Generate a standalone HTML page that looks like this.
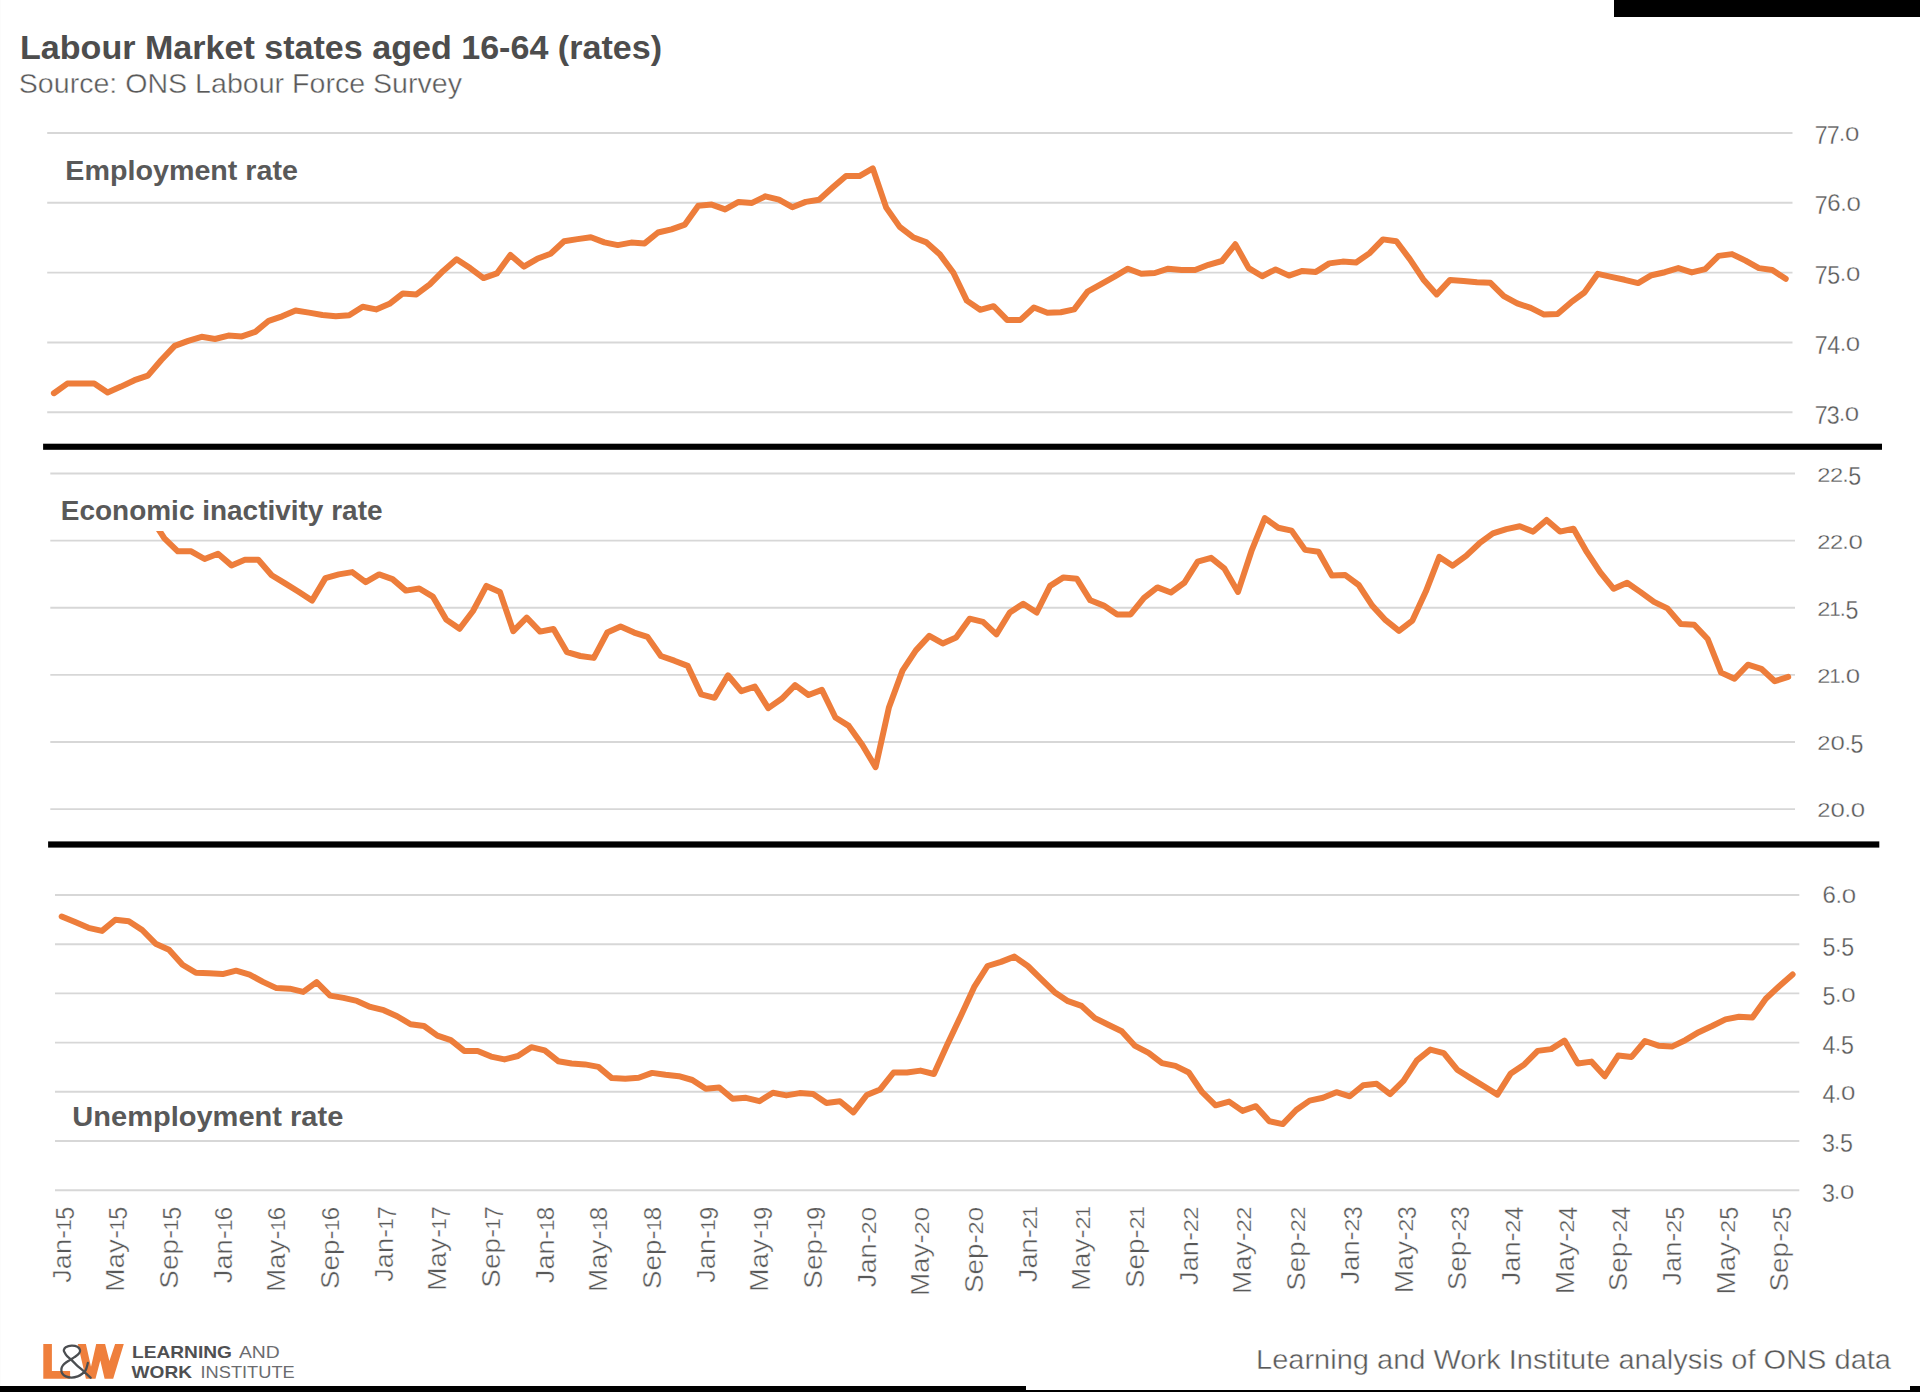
<!DOCTYPE html>
<html lang="en">
<head>
<meta charset="utf-8">
<title>Labour Market states aged 16-64 (rates)</title>
<style>
html,body{margin:0;padding:0;background:#fff;}
body{width:1920px;height:1392px;overflow:hidden;font-family:'Liberation Sans',sans-serif;}
svg{display:block;}
</style>
</head>
<body>
<svg width="1920" height="1392" viewBox="0 0 1920 1392" font-family="'Liberation Sans', sans-serif">
<rect x="0" y="0" width="1920" height="1392" fill="#ffffff"/>
<rect x="0" y="0" width="1" height="1386" fill="#fcfcfc"/>
<rect x="1614" y="0" width="306" height="17" fill="#000"/>
<rect x="0" y="1386" width="1026" height="6" fill="#000"/>
<rect x="1026" y="1390" width="894" height="2" fill="#000"/>
<rect x="1910" y="1386" width="10" height="6" fill="#000"/>
<line x1="47.2" y1="132.94" x2="1792.5" y2="132.94" stroke="#d7d7d7" stroke-width="1.9"/>
<line x1="47.2" y1="202.77" x2="1792.5" y2="202.77" stroke="#d7d7d7" stroke-width="1.9"/>
<line x1="47.2" y1="272.60" x2="1792.5" y2="272.60" stroke="#d7d7d7" stroke-width="1.9"/>
<line x1="47.2" y1="342.43" x2="1792.5" y2="342.43" stroke="#d7d7d7" stroke-width="1.9"/>
<line x1="47.2" y1="412.26" x2="1792.5" y2="412.26" stroke="#d7d7d7" stroke-width="1.9"/>
<line x1="50.3" y1="473.45" x2="1795.0" y2="473.45" stroke="#d7d7d7" stroke-width="1.9"/>
<line x1="50.3" y1="540.59" x2="1795.0" y2="540.59" stroke="#d7d7d7" stroke-width="1.9"/>
<line x1="50.3" y1="607.73" x2="1795.0" y2="607.73" stroke="#d7d7d7" stroke-width="1.9"/>
<line x1="50.3" y1="674.87" x2="1795.0" y2="674.87" stroke="#d7d7d7" stroke-width="1.9"/>
<line x1="50.3" y1="742.01" x2="1795.0" y2="742.01" stroke="#d7d7d7" stroke-width="1.9"/>
<line x1="50.3" y1="809.15" x2="1795.0" y2="809.15" stroke="#d7d7d7" stroke-width="1.9"/>
<line x1="55.0" y1="894.97" x2="1799.3" y2="894.97" stroke="#d7d7d7" stroke-width="1.9"/>
<line x1="55.0" y1="944.18" x2="1799.3" y2="944.18" stroke="#d7d7d7" stroke-width="1.9"/>
<line x1="55.0" y1="993.40" x2="1799.3" y2="993.40" stroke="#d7d7d7" stroke-width="1.9"/>
<line x1="55.0" y1="1042.61" x2="1799.3" y2="1042.61" stroke="#d7d7d7" stroke-width="1.9"/>
<line x1="55.0" y1="1091.82" x2="1799.3" y2="1091.82" stroke="#d7d7d7" stroke-width="1.9"/>
<line x1="55.0" y1="1141.04" x2="1799.3" y2="1141.04" stroke="#d7d7d7" stroke-width="1.9"/>
<line x1="55.0" y1="1190.25" x2="1799.3" y2="1190.25" stroke="#d7d7d7" stroke-width="1.9"/>
<polyline fill="none" stroke="#ED7D3B" stroke-width="6" stroke-linecap="round" stroke-linejoin="round" points="53.9,393.2 67.3,383.6 80.8,383.6 94.2,383.6 107.6,392.4 121.0,386.6 134.5,380.2 147.9,375.6 161.3,360.0 174.7,345.9 188.2,340.9 201.6,336.8 215.0,339.0 228.4,335.6 241.9,336.4 255.3,331.9 268.7,320.8 282.1,316.3 295.6,310.5 309.0,312.6 322.4,315.0 335.8,316.3 349.2,315.2 362.7,306.8 376.1,309.4 389.5,303.8 402.9,293.4 416.4,294.4 429.8,284.4 443.2,270.9 456.6,259.3 470.1,268.1 483.5,278.1 496.9,273.4 510.4,255.0 523.8,266.6 537.2,258.8 550.6,253.7 564.1,241.3 577.5,239.1 590.9,237.2 604.3,242.4 617.8,245.1 631.2,242.6 644.6,243.4 658.0,232.5 671.5,229.3 684.9,224.6 698.3,205.7 711.7,204.6 725.1,209.4 738.6,201.9 752.0,202.9 765.4,196.3 778.9,199.7 792.3,207.2 805.7,201.9 819.1,199.7 832.6,187.5 846.0,175.9 859.4,176.1 872.8,168.4 886.2,207.6 899.7,226.9 913.1,237.2 926.5,242.4 940.0,254.6 953.4,272.8 966.8,300.6 980.2,309.8 993.6,306.2 1007.1,319.9 1020.5,319.9 1033.9,307.5 1047.4,312.8 1060.8,312.2 1074.2,309.4 1087.6,291.6 1101.1,284.1 1114.5,276.6 1127.9,268.7 1141.3,273.8 1154.8,273.0 1168.2,268.7 1181.6,270.0 1195.0,270.0 1208.5,264.8 1221.9,261.0 1235.3,244.3 1248.7,268.1 1262.2,276.2 1275.6,269.4 1289.0,275.6 1302.4,270.9 1315.9,271.9 1329.3,263.4 1342.7,261.6 1356.1,262.5 1369.6,253.1 1383.0,239.4 1396.4,241.3 1409.8,259.1 1423.3,279.4 1436.7,294.4 1450.1,279.9 1463.5,280.9 1477.0,282.2 1490.4,282.8 1503.8,296.2 1517.2,303.4 1530.7,307.9 1544.1,314.6 1557.5,314.1 1570.9,302.4 1584.4,292.5 1597.8,273.8 1611.2,276.9 1624.6,279.8 1638.1,283.1 1651.5,275.2 1664.9,272.2 1678.3,268.1 1691.8,272.4 1705.2,269.1 1718.6,255.9 1732.0,254.1 1745.5,260.6 1758.9,268.1 1772.3,270.0 1785.7,278.8"/>
<polyline fill="none" stroke="#ED7D3B" stroke-width="6" stroke-linecap="round" stroke-linejoin="round" points="150.9,517.6 164.4,538.4 177.8,551.3 191.2,551.3 204.6,559.0 218.0,553.8 231.5,565.4 244.9,559.8 258.3,559.8 271.7,575.3 285.1,583.4 298.6,591.8 312.0,600.6 325.4,578.1 338.8,574.4 352.2,572.1 365.7,582.2 379.1,574.4 392.5,579.1 405.9,590.6 419.3,588.5 432.8,596.6 446.2,619.6 459.6,628.8 473.0,611.0 486.4,585.9 499.9,591.9 513.3,631.2 526.7,617.6 540.1,631.6 553.5,629.0 567.0,652.2 580.4,656.0 593.8,657.9 607.2,632.6 620.6,626.6 634.1,632.6 647.5,636.9 660.9,656.0 674.3,660.7 687.7,665.9 701.2,694.4 714.6,697.8 728.0,675.3 741.4,691.2 754.8,686.6 768.3,708.1 781.7,698.8 795.1,685.1 808.5,695.0 821.9,689.9 835.4,717.5 848.8,725.9 862.2,744.7 875.6,767.2 889.0,707.2 902.5,670.6 915.9,650.4 929.3,635.9 942.7,643.4 956.1,637.4 969.6,618.7 983.0,621.9 996.4,634.4 1009.8,612.5 1023.2,603.7 1036.7,612.5 1050.1,585.9 1063.5,577.4 1076.9,578.8 1090.3,600.3 1103.8,605.6 1117.2,614.4 1130.6,614.4 1144.0,597.8 1157.4,587.4 1170.9,592.5 1184.3,582.8 1197.7,561.6 1211.1,557.8 1224.5,568.7 1238.0,591.9 1251.4,551.2 1264.8,518.1 1278.2,527.8 1291.6,530.6 1305.1,549.9 1318.5,551.8 1331.9,575.6 1345.3,575.1 1358.7,585.0 1372.2,605.6 1385.6,620.2 1399.0,630.9 1412.4,620.6 1425.8,591.6 1439.3,556.9 1452.7,565.7 1466.1,555.9 1479.5,543.2 1492.9,533.4 1506.4,529.1 1519.8,526.3 1533.2,531.6 1546.6,519.9 1560.0,531.6 1573.5,528.8 1586.9,552.2 1600.3,572.4 1613.7,588.8 1627.1,582.8 1640.6,592.1 1654.0,601.9 1667.4,608.4 1680.8,624.0 1694.2,624.8 1707.7,639.0 1721.1,672.6 1734.5,678.8 1747.9,664.7 1761.3,668.8 1774.8,681.2 1788.2,676.9"/>
<polyline fill="none" stroke="#ED7D3B" stroke-width="6" stroke-linecap="round" stroke-linejoin="round" points="61.7,916.5 75.1,922.1 88.5,927.8 102.0,930.9 115.4,919.7 128.8,921.2 142.2,930.0 155.6,943.7 169.0,949.7 182.5,964.7 195.9,972.8 209.3,973.3 222.7,974.1 236.1,970.7 249.6,974.6 263.0,981.9 276.4,988.1 289.8,988.7 303.2,991.9 316.6,982.1 330.1,995.6 343.5,997.9 356.9,1000.9 370.3,1006.9 383.7,1010.2 397.1,1016.2 410.6,1024.3 424.0,1026.0 437.4,1035.6 450.8,1040.2 464.2,1050.9 477.7,1050.9 491.1,1056.6 504.5,1059.4 517.9,1056.0 531.3,1047.2 544.7,1050.4 558.2,1061.2 571.6,1063.5 585.0,1064.4 598.4,1066.9 611.8,1078.1 625.3,1078.7 638.7,1077.8 652.1,1072.9 665.5,1074.8 678.9,1076.2 692.3,1080.0 705.8,1088.8 719.2,1087.5 732.6,1098.8 746.0,1097.8 759.4,1101.2 772.9,1092.8 786.3,1095.4 799.7,1093.1 813.1,1094.1 826.5,1102.9 839.9,1101.2 853.4,1112.4 866.8,1095.0 880.2,1089.4 893.6,1072.5 907.0,1072.5 920.5,1070.6 933.9,1074.0 947.3,1044.4 960.7,1016.2 974.1,987.2 987.5,966.0 1001.0,961.9 1014.4,956.6 1027.8,966.0 1041.2,979.1 1054.6,992.2 1068.0,1001.2 1081.5,1005.9 1094.9,1018.1 1108.3,1024.7 1121.7,1031.2 1135.1,1045.9 1148.6,1052.8 1162.0,1063.1 1175.4,1065.9 1188.8,1072.5 1202.2,1092.2 1215.6,1105.3 1229.1,1101.6 1242.5,1110.9 1255.9,1106.2 1269.3,1121.2 1282.7,1124.1 1296.2,1110.0 1309.6,1100.6 1323.0,1097.8 1336.4,1092.2 1349.8,1096.3 1363.2,1085.2 1376.7,1083.8 1390.1,1094.1 1403.5,1080.9 1416.9,1060.3 1430.3,1049.6 1443.8,1053.2 1457.2,1069.7 1470.6,1078.1 1484.0,1086.2 1497.4,1094.6 1510.8,1073.4 1524.3,1064.4 1537.7,1050.9 1551.1,1049.1 1564.5,1040.6 1577.9,1063.5 1591.4,1061.6 1604.8,1076.2 1618.2,1055.6 1631.6,1056.9 1645.0,1041.0 1658.4,1045.7 1671.9,1046.6 1685.3,1040.2 1698.7,1032.2 1712.1,1026.0 1725.5,1019.4 1739.0,1016.8 1752.4,1017.6 1765.8,998.8 1779.2,986.2 1792.6,974.4"/>
<rect x="56" y="486" width="334" height="45" fill="#fff"/>
<rect x="43.1" y="443.7" width="1838.9" height="6.1" fill="#000"/>
<rect x="48.1" y="841.4" width="1831.2" height="6.2" fill="#000"/>
<text x="20.0" y="59.0" font-size="32.70" fill="#4d4d4d" font-weight="bold" text-anchor="start" textLength="642.0" lengthAdjust="spacingAndGlyphs">Labour Market states aged 16-64 (rates)</text>
<text x="18.8" y="93.1" font-size="27.40" fill="#595959" font-weight="normal" text-anchor="start" textLength="443.2" lengthAdjust="spacingAndGlyphs" stroke="#fff" stroke-width="0.4" paint-order="fill stroke">Source: ONS Labour Force Survey</text>
<text x="65.3" y="179.6" font-size="27.60" fill="#595959" font-weight="bold" text-anchor="start" textLength="232.7" lengthAdjust="spacingAndGlyphs">Employment rate</text>
<text x="60.8" y="520.4" font-size="27.60" fill="#595959" font-weight="bold" text-anchor="start" textLength="321.7" lengthAdjust="spacingAndGlyphs">Economic inactivity rate</text>
<text x="72.3" y="1125.6" font-size="27.60" fill="#595959" font-weight="bold" text-anchor="start" textLength="271.0" lengthAdjust="spacingAndGlyphs">Unemployment rate</text>
<g transform="translate(1815.00,141.24)"><text transform="translate(-0.35,3.10) scale(0.930,1)" font-size="24.96" fill="#595959" stroke="#fff" stroke-width="0.3" paint-order="fill stroke">7</text><text transform="translate(11.85,3.10) scale(0.930,1)" font-size="24.96" fill="#595959" stroke="#fff" stroke-width="0.3" paint-order="fill stroke">7</text><text transform="translate(24.10,0.00) scale(1.000,1)" font-size="21.60" fill="#595959" stroke="#fff" stroke-width="0.3" paint-order="fill stroke">.</text><text transform="translate(30.03,0.00) scale(1.250,1)" font-size="20.64" fill="#595959" stroke="#fff" stroke-width="0.3" paint-order="fill stroke">0</text></g>
<g transform="translate(1815.00,211.07)"><text transform="translate(-0.35,3.10) scale(0.930,1)" font-size="24.96" fill="#595959" stroke="#fff" stroke-width="0.3" paint-order="fill stroke">7</text><text transform="translate(12.33,0.00) scale(0.970,1)" font-size="24.72" fill="#595959" stroke="#fff" stroke-width="0.3" paint-order="fill stroke">6</text><text transform="translate(25.50,0.00) scale(1.000,1)" font-size="21.60" fill="#595959" stroke="#fff" stroke-width="0.3" paint-order="fill stroke">.</text><text transform="translate(31.43,0.00) scale(1.250,1)" font-size="20.64" fill="#595959" stroke="#fff" stroke-width="0.3" paint-order="fill stroke">0</text></g>
<g transform="translate(1815.00,280.90)"><text transform="translate(-0.35,3.10) scale(0.930,1)" font-size="24.96" fill="#595959" stroke="#fff" stroke-width="0.3" paint-order="fill stroke">7</text><text transform="translate(12.35,3.10) scale(0.930,1)" font-size="24.96" fill="#595959" stroke="#fff" stroke-width="0.3" paint-order="fill stroke">5</text><text transform="translate(25.10,0.00) scale(1.000,1)" font-size="21.60" fill="#595959" stroke="#fff" stroke-width="0.3" paint-order="fill stroke">.</text><text transform="translate(31.03,0.00) scale(1.250,1)" font-size="20.64" fill="#595959" stroke="#fff" stroke-width="0.3" paint-order="fill stroke">0</text></g>
<g transform="translate(1815.00,350.73)"><text transform="translate(-0.35,3.10) scale(0.930,1)" font-size="24.96" fill="#595959" stroke="#fff" stroke-width="0.3" paint-order="fill stroke">7</text><text transform="translate(12.25,3.10) scale(0.930,1)" font-size="24.96" fill="#595959" stroke="#fff" stroke-width="0.3" paint-order="fill stroke">4</text><text transform="translate(24.90,0.00) scale(1.000,1)" font-size="21.60" fill="#595959" stroke="#fff" stroke-width="0.3" paint-order="fill stroke">.</text><text transform="translate(30.83,0.00) scale(1.250,1)" font-size="20.64" fill="#595959" stroke="#fff" stroke-width="0.3" paint-order="fill stroke">0</text></g>
<g transform="translate(1815.00,420.56)"><text transform="translate(-0.35,3.10) scale(0.930,1)" font-size="24.96" fill="#595959" stroke="#fff" stroke-width="0.3" paint-order="fill stroke">7</text><text transform="translate(11.75,3.10) scale(0.930,1)" font-size="24.96" fill="#595959" stroke="#fff" stroke-width="0.3" paint-order="fill stroke">3</text><text transform="translate(23.90,0.00) scale(1.000,1)" font-size="21.60" fill="#595959" stroke="#fff" stroke-width="0.3" paint-order="fill stroke">.</text><text transform="translate(29.83,0.00) scale(1.250,1)" font-size="20.64" fill="#595959" stroke="#fff" stroke-width="0.3" paint-order="fill stroke">0</text></g>
<g transform="translate(1817.60,481.75)"><text transform="translate(-0.30,0.00) scale(1.150,1)" font-size="20.64" fill="#595959" stroke="#fff" stroke-width="0.3" paint-order="fill stroke">2</text><text transform="translate(12.30,0.00) scale(1.150,1)" font-size="20.64" fill="#595959" stroke="#fff" stroke-width="0.3" paint-order="fill stroke">2</text><text transform="translate(24.90,0.00) scale(1.000,1)" font-size="21.60" fill="#595959" stroke="#fff" stroke-width="0.3" paint-order="fill stroke">.</text><text transform="translate(30.75,3.10) scale(0.930,1)" font-size="24.96" fill="#595959" stroke="#fff" stroke-width="0.3" paint-order="fill stroke">5</text></g>
<g transform="translate(1817.60,548.89)"><text transform="translate(-0.30,0.00) scale(1.150,1)" font-size="20.64" fill="#595959" stroke="#fff" stroke-width="0.3" paint-order="fill stroke">2</text><text transform="translate(12.30,0.00) scale(1.150,1)" font-size="20.64" fill="#595959" stroke="#fff" stroke-width="0.3" paint-order="fill stroke">2</text><text transform="translate(24.90,0.00) scale(1.000,1)" font-size="21.60" fill="#595959" stroke="#fff" stroke-width="0.3" paint-order="fill stroke">.</text><text transform="translate(30.83,0.00) scale(1.250,1)" font-size="20.64" fill="#595959" stroke="#fff" stroke-width="0.3" paint-order="fill stroke">0</text></g>
<g transform="translate(1817.60,616.03)"><text transform="translate(-0.30,0.00) scale(1.150,1)" font-size="20.64" fill="#595959" stroke="#fff" stroke-width="0.3" paint-order="fill stroke">2</text><text transform="translate(11.76,0.00) scale(1.000,1)" font-size="20.64" fill="#595959" stroke="#fff" stroke-width="0.3" paint-order="fill stroke">1</text><text transform="translate(22.10,0.00) scale(1.000,1)" font-size="21.60" fill="#595959" stroke="#fff" stroke-width="0.3" paint-order="fill stroke">.</text><text transform="translate(27.95,3.10) scale(0.930,1)" font-size="24.96" fill="#595959" stroke="#fff" stroke-width="0.3" paint-order="fill stroke">5</text></g>
<g transform="translate(1817.60,683.17)"><text transform="translate(-0.30,0.00) scale(1.150,1)" font-size="20.64" fill="#595959" stroke="#fff" stroke-width="0.3" paint-order="fill stroke">2</text><text transform="translate(11.76,0.00) scale(1.000,1)" font-size="20.64" fill="#595959" stroke="#fff" stroke-width="0.3" paint-order="fill stroke">1</text><text transform="translate(22.10,0.00) scale(1.000,1)" font-size="21.60" fill="#595959" stroke="#fff" stroke-width="0.3" paint-order="fill stroke">.</text><text transform="translate(28.03,0.00) scale(1.250,1)" font-size="20.64" fill="#595959" stroke="#fff" stroke-width="0.3" paint-order="fill stroke">0</text></g>
<g transform="translate(1817.60,750.31)"><text transform="translate(-0.30,0.00) scale(1.150,1)" font-size="20.64" fill="#595959" stroke="#fff" stroke-width="0.3" paint-order="fill stroke">2</text><text transform="translate(12.83,0.00) scale(1.250,1)" font-size="20.64" fill="#595959" stroke="#fff" stroke-width="0.3" paint-order="fill stroke">0</text><text transform="translate(27.10,0.00) scale(1.000,1)" font-size="21.60" fill="#595959" stroke="#fff" stroke-width="0.3" paint-order="fill stroke">.</text><text transform="translate(32.95,3.10) scale(0.930,1)" font-size="24.96" fill="#595959" stroke="#fff" stroke-width="0.3" paint-order="fill stroke">5</text></g>
<g transform="translate(1817.60,817.45)"><text transform="translate(-0.30,0.00) scale(1.150,1)" font-size="20.64" fill="#595959" stroke="#fff" stroke-width="0.3" paint-order="fill stroke">2</text><text transform="translate(12.83,0.00) scale(1.250,1)" font-size="20.64" fill="#595959" stroke="#fff" stroke-width="0.3" paint-order="fill stroke">0</text><text transform="translate(27.10,0.00) scale(1.000,1)" font-size="21.60" fill="#595959" stroke="#fff" stroke-width="0.3" paint-order="fill stroke">.</text><text transform="translate(33.03,0.00) scale(1.250,1)" font-size="20.64" fill="#595959" stroke="#fff" stroke-width="0.3" paint-order="fill stroke">0</text></g>
<g transform="translate(1822.40,903.27)"><text transform="translate(0.13,0.00) scale(0.970,1)" font-size="24.72" fill="#595959" stroke="#fff" stroke-width="0.3" paint-order="fill stroke">6</text><text transform="translate(13.30,0.00) scale(1.000,1)" font-size="21.60" fill="#595959" stroke="#fff" stroke-width="0.3" paint-order="fill stroke">.</text><text transform="translate(19.23,0.00) scale(1.250,1)" font-size="20.64" fill="#595959" stroke="#fff" stroke-width="0.3" paint-order="fill stroke">0</text></g>
<g transform="translate(1822.40,952.48)"><text transform="translate(0.15,3.10) scale(0.930,1)" font-size="24.96" fill="#595959" stroke="#fff" stroke-width="0.3" paint-order="fill stroke">5</text><text transform="translate(12.90,0.00) scale(1.000,1)" font-size="21.60" fill="#595959" stroke="#fff" stroke-width="0.3" paint-order="fill stroke">.</text><text transform="translate(18.75,3.10) scale(0.930,1)" font-size="24.96" fill="#595959" stroke="#fff" stroke-width="0.3" paint-order="fill stroke">5</text></g>
<g transform="translate(1822.40,1001.70)"><text transform="translate(0.15,3.10) scale(0.930,1)" font-size="24.96" fill="#595959" stroke="#fff" stroke-width="0.3" paint-order="fill stroke">5</text><text transform="translate(12.90,0.00) scale(1.000,1)" font-size="21.60" fill="#595959" stroke="#fff" stroke-width="0.3" paint-order="fill stroke">.</text><text transform="translate(18.83,0.00) scale(1.250,1)" font-size="20.64" fill="#595959" stroke="#fff" stroke-width="0.3" paint-order="fill stroke">0</text></g>
<g transform="translate(1822.40,1050.91)"><text transform="translate(0.05,3.10) scale(0.930,1)" font-size="24.96" fill="#595959" stroke="#fff" stroke-width="0.3" paint-order="fill stroke">4</text><text transform="translate(12.70,0.00) scale(1.000,1)" font-size="21.60" fill="#595959" stroke="#fff" stroke-width="0.3" paint-order="fill stroke">.</text><text transform="translate(18.55,3.10) scale(0.930,1)" font-size="24.96" fill="#595959" stroke="#fff" stroke-width="0.3" paint-order="fill stroke">5</text></g>
<g transform="translate(1822.40,1100.12)"><text transform="translate(0.05,3.10) scale(0.930,1)" font-size="24.96" fill="#595959" stroke="#fff" stroke-width="0.3" paint-order="fill stroke">4</text><text transform="translate(12.70,0.00) scale(1.000,1)" font-size="21.60" fill="#595959" stroke="#fff" stroke-width="0.3" paint-order="fill stroke">.</text><text transform="translate(18.63,0.00) scale(1.250,1)" font-size="20.64" fill="#595959" stroke="#fff" stroke-width="0.3" paint-order="fill stroke">0</text></g>
<g transform="translate(1822.40,1149.34)"><text transform="translate(-0.45,3.10) scale(0.930,1)" font-size="24.96" fill="#595959" stroke="#fff" stroke-width="0.3" paint-order="fill stroke">3</text><text transform="translate(11.70,0.00) scale(1.000,1)" font-size="21.60" fill="#595959" stroke="#fff" stroke-width="0.3" paint-order="fill stroke">.</text><text transform="translate(17.55,3.10) scale(0.930,1)" font-size="24.96" fill="#595959" stroke="#fff" stroke-width="0.3" paint-order="fill stroke">5</text></g>
<g transform="translate(1822.40,1198.55)"><text transform="translate(-0.45,3.10) scale(0.930,1)" font-size="24.96" fill="#595959" stroke="#fff" stroke-width="0.3" paint-order="fill stroke">3</text><text transform="translate(11.70,0.00) scale(1.000,1)" font-size="21.60" fill="#595959" stroke="#fff" stroke-width="0.3" paint-order="fill stroke">.</text><text transform="translate(17.63,0.00) scale(1.250,1)" font-size="20.64" fill="#595959" stroke="#fff" stroke-width="0.3" paint-order="fill stroke">0</text></g>
<g transform="translate(70.70,1206.80) rotate(-90) translate(-75.94,0)"><text transform="translate(0.00,0) scale(1.050,1)" font-size="25.92" fill="#595959" stroke="#fff" stroke-width="0.4" paint-order="fill stroke">Jan-</text><text transform="translate(52.11,0.00) scale(1.000,1)" font-size="20.64" fill="#595959" stroke="#fff" stroke-width="0.3" paint-order="fill stroke">1</text><text transform="translate(62.89,3.10) scale(0.930,1)" font-size="24.96" fill="#595959" stroke="#fff" stroke-width="0.3" paint-order="fill stroke">5</text></g>
<g transform="translate(124.37,1206.80) rotate(-90) translate(-84.92,0)"><text transform="translate(0.00,0) scale(1.075,1)" font-size="25.92" fill="#595959" stroke="#fff" stroke-width="0.4" paint-order="fill stroke">May-</text><text transform="translate(61.08,0.00) scale(1.000,1)" font-size="20.64" fill="#595959" stroke="#fff" stroke-width="0.3" paint-order="fill stroke">1</text><text transform="translate(71.87,3.10) scale(0.930,1)" font-size="24.96" fill="#595959" stroke="#fff" stroke-width="0.3" paint-order="fill stroke">5</text></g>
<g transform="translate(178.04,1206.80) rotate(-90) translate(-81.86,0)"><text transform="translate(0.00,0) scale(1.075,1)" font-size="25.92" fill="#595959" stroke="#fff" stroke-width="0.4" paint-order="fill stroke">Sep-</text><text transform="translate(58.02,0.00) scale(1.000,1)" font-size="20.64" fill="#595959" stroke="#fff" stroke-width="0.3" paint-order="fill stroke">1</text><text transform="translate(68.80,3.10) scale(0.930,1)" font-size="24.96" fill="#595959" stroke="#fff" stroke-width="0.3" paint-order="fill stroke">5</text></g>
<g transform="translate(231.72,1206.80) rotate(-90) translate(-76.34,0)"><text transform="translate(0.00,0) scale(1.050,1)" font-size="25.92" fill="#595959" stroke="#fff" stroke-width="0.4" paint-order="fill stroke">Jan-</text><text transform="translate(52.11,0.00) scale(1.000,1)" font-size="20.64" fill="#595959" stroke="#fff" stroke-width="0.3" paint-order="fill stroke">1</text><text transform="translate(62.88,0.00) scale(0.970,1)" font-size="24.72" fill="#595959" stroke="#fff" stroke-width="0.3" paint-order="fill stroke">6</text></g>
<g transform="translate(285.39,1206.80) rotate(-90) translate(-85.32,0)"><text transform="translate(0.00,0) scale(1.075,1)" font-size="25.92" fill="#595959" stroke="#fff" stroke-width="0.4" paint-order="fill stroke">May-</text><text transform="translate(61.08,0.00) scale(1.000,1)" font-size="20.64" fill="#595959" stroke="#fff" stroke-width="0.3" paint-order="fill stroke">1</text><text transform="translate(71.85,0.00) scale(0.970,1)" font-size="24.72" fill="#595959" stroke="#fff" stroke-width="0.3" paint-order="fill stroke">6</text></g>
<g transform="translate(339.06,1206.80) rotate(-90) translate(-82.26,0)"><text transform="translate(0.00,0) scale(1.075,1)" font-size="25.92" fill="#595959" stroke="#fff" stroke-width="0.4" paint-order="fill stroke">Sep-</text><text transform="translate(58.02,0.00) scale(1.000,1)" font-size="20.64" fill="#595959" stroke="#fff" stroke-width="0.3" paint-order="fill stroke">1</text><text transform="translate(68.79,0.00) scale(0.970,1)" font-size="24.72" fill="#595959" stroke="#fff" stroke-width="0.3" paint-order="fill stroke">6</text></g>
<g transform="translate(392.73,1206.80) rotate(-90) translate(-74.94,0)"><text transform="translate(0.00,0) scale(1.050,1)" font-size="25.92" fill="#595959" stroke="#fff" stroke-width="0.4" paint-order="fill stroke">Jan-</text><text transform="translate(52.11,0.00) scale(1.000,1)" font-size="20.64" fill="#595959" stroke="#fff" stroke-width="0.3" paint-order="fill stroke">1</text><text transform="translate(62.39,3.10) scale(0.930,1)" font-size="24.96" fill="#595959" stroke="#fff" stroke-width="0.3" paint-order="fill stroke">7</text></g>
<g transform="translate(446.40,1206.80) rotate(-90) translate(-83.92,0)"><text transform="translate(0.00,0) scale(1.075,1)" font-size="25.92" fill="#595959" stroke="#fff" stroke-width="0.4" paint-order="fill stroke">May-</text><text transform="translate(61.08,0.00) scale(1.000,1)" font-size="20.64" fill="#595959" stroke="#fff" stroke-width="0.3" paint-order="fill stroke">1</text><text transform="translate(71.37,3.10) scale(0.930,1)" font-size="24.96" fill="#595959" stroke="#fff" stroke-width="0.3" paint-order="fill stroke">7</text></g>
<g transform="translate(500.08,1206.80) rotate(-90) translate(-80.86,0)"><text transform="translate(0.00,0) scale(1.075,1)" font-size="25.92" fill="#595959" stroke="#fff" stroke-width="0.4" paint-order="fill stroke">Sep-</text><text transform="translate(58.02,0.00) scale(1.000,1)" font-size="20.64" fill="#595959" stroke="#fff" stroke-width="0.3" paint-order="fill stroke">1</text><text transform="translate(68.30,3.10) scale(0.930,1)" font-size="24.96" fill="#595959" stroke="#fff" stroke-width="0.3" paint-order="fill stroke">7</text></g>
<g transform="translate(553.75,1206.80) rotate(-90) translate(-76.34,0)"><text transform="translate(0.00,0) scale(1.050,1)" font-size="25.92" fill="#595959" stroke="#fff" stroke-width="0.4" paint-order="fill stroke">Jan-</text><text transform="translate(52.11,0.00) scale(1.000,1)" font-size="20.64" fill="#595959" stroke="#fff" stroke-width="0.3" paint-order="fill stroke">1</text><text transform="translate(62.88,0.00) scale(0.970,1)" font-size="24.72" fill="#595959" stroke="#fff" stroke-width="0.3" paint-order="fill stroke">8</text></g>
<g transform="translate(607.42,1206.80) rotate(-90) translate(-85.32,0)"><text transform="translate(0.00,0) scale(1.075,1)" font-size="25.92" fill="#595959" stroke="#fff" stroke-width="0.4" paint-order="fill stroke">May-</text><text transform="translate(61.08,0.00) scale(1.000,1)" font-size="20.64" fill="#595959" stroke="#fff" stroke-width="0.3" paint-order="fill stroke">1</text><text transform="translate(71.85,0.00) scale(0.970,1)" font-size="24.72" fill="#595959" stroke="#fff" stroke-width="0.3" paint-order="fill stroke">8</text></g>
<g transform="translate(661.09,1206.80) rotate(-90) translate(-82.26,0)"><text transform="translate(0.00,0) scale(1.075,1)" font-size="25.92" fill="#595959" stroke="#fff" stroke-width="0.4" paint-order="fill stroke">Sep-</text><text transform="translate(58.02,0.00) scale(1.000,1)" font-size="20.64" fill="#595959" stroke="#fff" stroke-width="0.3" paint-order="fill stroke">1</text><text transform="translate(68.79,0.00) scale(0.970,1)" font-size="24.72" fill="#595959" stroke="#fff" stroke-width="0.3" paint-order="fill stroke">8</text></g>
<g transform="translate(714.76,1206.80) rotate(-90) translate(-75.94,0)"><text transform="translate(0.00,0) scale(1.050,1)" font-size="25.92" fill="#595959" stroke="#fff" stroke-width="0.4" paint-order="fill stroke">Jan-</text><text transform="translate(52.11,0.00) scale(1.000,1)" font-size="20.64" fill="#595959" stroke="#fff" stroke-width="0.3" paint-order="fill stroke">1</text><text transform="translate(62.89,3.10) scale(0.930,1)" font-size="24.96" fill="#595959" stroke="#fff" stroke-width="0.3" paint-order="fill stroke">9</text></g>
<g transform="translate(768.44,1206.80) rotate(-90) translate(-84.92,0)"><text transform="translate(0.00,0) scale(1.075,1)" font-size="25.92" fill="#595959" stroke="#fff" stroke-width="0.4" paint-order="fill stroke">May-</text><text transform="translate(61.08,0.00) scale(1.000,1)" font-size="20.64" fill="#595959" stroke="#fff" stroke-width="0.3" paint-order="fill stroke">1</text><text transform="translate(71.87,3.10) scale(0.930,1)" font-size="24.96" fill="#595959" stroke="#fff" stroke-width="0.3" paint-order="fill stroke">9</text></g>
<g transform="translate(822.11,1206.80) rotate(-90) translate(-81.86,0)"><text transform="translate(0.00,0) scale(1.075,1)" font-size="25.92" fill="#595959" stroke="#fff" stroke-width="0.4" paint-order="fill stroke">Sep-</text><text transform="translate(58.02,0.00) scale(1.000,1)" font-size="20.64" fill="#595959" stroke="#fff" stroke-width="0.3" paint-order="fill stroke">1</text><text transform="translate(68.80,3.10) scale(0.930,1)" font-size="24.96" fill="#595959" stroke="#fff" stroke-width="0.3" paint-order="fill stroke">9</text></g>
<g transform="translate(875.78,1206.80) rotate(-90) translate(-80.34,0)"><text transform="translate(0.00,0) scale(1.050,1)" font-size="25.92" fill="#595959" stroke="#fff" stroke-width="0.4" paint-order="fill stroke">Jan-</text><text transform="translate(52.65,0.00) scale(1.150,1)" font-size="20.64" fill="#595959" stroke="#fff" stroke-width="0.3" paint-order="fill stroke">2</text><text transform="translate(65.77,0.00) scale(1.250,1)" font-size="20.64" fill="#595959" stroke="#fff" stroke-width="0.3" paint-order="fill stroke">0</text></g>
<g transform="translate(929.45,1206.80) rotate(-90) translate(-89.32,0)"><text transform="translate(0.00,0) scale(1.075,1)" font-size="25.92" fill="#595959" stroke="#fff" stroke-width="0.4" paint-order="fill stroke">May-</text><text transform="translate(61.62,0.00) scale(1.150,1)" font-size="20.64" fill="#595959" stroke="#fff" stroke-width="0.3" paint-order="fill stroke">2</text><text transform="translate(74.75,0.00) scale(1.250,1)" font-size="20.64" fill="#595959" stroke="#fff" stroke-width="0.3" paint-order="fill stroke">0</text></g>
<g transform="translate(983.12,1206.80) rotate(-90) translate(-86.26,0)"><text transform="translate(0.00,0) scale(1.075,1)" font-size="25.92" fill="#595959" stroke="#fff" stroke-width="0.4" paint-order="fill stroke">Sep-</text><text transform="translate(58.56,0.00) scale(1.150,1)" font-size="20.64" fill="#595959" stroke="#fff" stroke-width="0.3" paint-order="fill stroke">2</text><text transform="translate(71.69,0.00) scale(1.250,1)" font-size="20.64" fill="#595959" stroke="#fff" stroke-width="0.3" paint-order="fill stroke">0</text></g>
<g transform="translate(1036.80,1206.80) rotate(-90) translate(-75.34,0)"><text transform="translate(0.00,0) scale(1.050,1)" font-size="25.92" fill="#595959" stroke="#fff" stroke-width="0.4" paint-order="fill stroke">Jan-</text><text transform="translate(52.65,0.00) scale(1.150,1)" font-size="20.64" fill="#595959" stroke="#fff" stroke-width="0.3" paint-order="fill stroke">2</text><text transform="translate(64.71,0.00) scale(1.000,1)" font-size="20.64" fill="#595959" stroke="#fff" stroke-width="0.3" paint-order="fill stroke">1</text></g>
<g transform="translate(1090.47,1206.80) rotate(-90) translate(-84.32,0)"><text transform="translate(0.00,0) scale(1.075,1)" font-size="25.92" fill="#595959" stroke="#fff" stroke-width="0.4" paint-order="fill stroke">May-</text><text transform="translate(61.62,0.00) scale(1.150,1)" font-size="20.64" fill="#595959" stroke="#fff" stroke-width="0.3" paint-order="fill stroke">2</text><text transform="translate(73.68,0.00) scale(1.000,1)" font-size="20.64" fill="#595959" stroke="#fff" stroke-width="0.3" paint-order="fill stroke">1</text></g>
<g transform="translate(1144.14,1206.80) rotate(-90) translate(-81.26,0)"><text transform="translate(0.00,0) scale(1.075,1)" font-size="25.92" fill="#595959" stroke="#fff" stroke-width="0.4" paint-order="fill stroke">Sep-</text><text transform="translate(58.56,0.00) scale(1.150,1)" font-size="20.64" fill="#595959" stroke="#fff" stroke-width="0.3" paint-order="fill stroke">2</text><text transform="translate(70.62,0.00) scale(1.000,1)" font-size="20.64" fill="#595959" stroke="#fff" stroke-width="0.3" paint-order="fill stroke">1</text></g>
<g transform="translate(1197.81,1206.80) rotate(-90) translate(-78.14,0)"><text transform="translate(0.00,0) scale(1.050,1)" font-size="25.92" fill="#595959" stroke="#fff" stroke-width="0.4" paint-order="fill stroke">Jan-</text><text transform="translate(52.65,0.00) scale(1.150,1)" font-size="20.64" fill="#595959" stroke="#fff" stroke-width="0.3" paint-order="fill stroke">2</text><text transform="translate(65.25,0.00) scale(1.150,1)" font-size="20.64" fill="#595959" stroke="#fff" stroke-width="0.3" paint-order="fill stroke">2</text></g>
<g transform="translate(1251.48,1206.80) rotate(-90) translate(-87.12,0)"><text transform="translate(0.00,0) scale(1.075,1)" font-size="25.92" fill="#595959" stroke="#fff" stroke-width="0.4" paint-order="fill stroke">May-</text><text transform="translate(61.62,0.00) scale(1.150,1)" font-size="20.64" fill="#595959" stroke="#fff" stroke-width="0.3" paint-order="fill stroke">2</text><text transform="translate(74.22,0.00) scale(1.150,1)" font-size="20.64" fill="#595959" stroke="#fff" stroke-width="0.3" paint-order="fill stroke">2</text></g>
<g transform="translate(1305.16,1206.80) rotate(-90) translate(-84.06,0)"><text transform="translate(0.00,0) scale(1.075,1)" font-size="25.92" fill="#595959" stroke="#fff" stroke-width="0.4" paint-order="fill stroke">Sep-</text><text transform="translate(58.56,0.00) scale(1.150,1)" font-size="20.64" fill="#595959" stroke="#fff" stroke-width="0.3" paint-order="fill stroke">2</text><text transform="translate(71.16,0.00) scale(1.150,1)" font-size="20.64" fill="#595959" stroke="#fff" stroke-width="0.3" paint-order="fill stroke">2</text></g>
<g transform="translate(1358.83,1206.80) rotate(-90) translate(-77.54,0)"><text transform="translate(0.00,0) scale(1.050,1)" font-size="25.92" fill="#595959" stroke="#fff" stroke-width="0.4" paint-order="fill stroke">Jan-</text><text transform="translate(52.65,0.00) scale(1.150,1)" font-size="20.64" fill="#595959" stroke="#fff" stroke-width="0.3" paint-order="fill stroke">2</text><text transform="translate(65.09,3.10) scale(0.930,1)" font-size="24.96" fill="#595959" stroke="#fff" stroke-width="0.3" paint-order="fill stroke">3</text></g>
<g transform="translate(1412.50,1206.80) rotate(-90) translate(-86.52,0)"><text transform="translate(0.00,0) scale(1.075,1)" font-size="25.92" fill="#595959" stroke="#fff" stroke-width="0.4" paint-order="fill stroke">May-</text><text transform="translate(61.62,0.00) scale(1.150,1)" font-size="20.64" fill="#595959" stroke="#fff" stroke-width="0.3" paint-order="fill stroke">2</text><text transform="translate(74.07,3.10) scale(0.930,1)" font-size="24.96" fill="#595959" stroke="#fff" stroke-width="0.3" paint-order="fill stroke">3</text></g>
<g transform="translate(1466.17,1206.80) rotate(-90) translate(-83.46,0)"><text transform="translate(0.00,0) scale(1.075,1)" font-size="25.92" fill="#595959" stroke="#fff" stroke-width="0.4" paint-order="fill stroke">Sep-</text><text transform="translate(58.56,0.00) scale(1.150,1)" font-size="20.64" fill="#595959" stroke="#fff" stroke-width="0.3" paint-order="fill stroke">2</text><text transform="translate(71.00,3.10) scale(0.930,1)" font-size="24.96" fill="#595959" stroke="#fff" stroke-width="0.3" paint-order="fill stroke">3</text></g>
<g transform="translate(1519.84,1206.80) rotate(-90) translate(-78.54,0)"><text transform="translate(0.00,0) scale(1.050,1)" font-size="25.92" fill="#595959" stroke="#fff" stroke-width="0.4" paint-order="fill stroke">Jan-</text><text transform="translate(52.65,0.00) scale(1.150,1)" font-size="20.64" fill="#595959" stroke="#fff" stroke-width="0.3" paint-order="fill stroke">2</text><text transform="translate(65.59,3.10) scale(0.930,1)" font-size="24.96" fill="#595959" stroke="#fff" stroke-width="0.3" paint-order="fill stroke">4</text></g>
<g transform="translate(1573.52,1206.80) rotate(-90) translate(-87.52,0)"><text transform="translate(0.00,0) scale(1.075,1)" font-size="25.92" fill="#595959" stroke="#fff" stroke-width="0.4" paint-order="fill stroke">May-</text><text transform="translate(61.62,0.00) scale(1.150,1)" font-size="20.64" fill="#595959" stroke="#fff" stroke-width="0.3" paint-order="fill stroke">2</text><text transform="translate(74.57,3.10) scale(0.930,1)" font-size="24.96" fill="#595959" stroke="#fff" stroke-width="0.3" paint-order="fill stroke">4</text></g>
<g transform="translate(1627.19,1206.80) rotate(-90) translate(-84.46,0)"><text transform="translate(0.00,0) scale(1.075,1)" font-size="25.92" fill="#595959" stroke="#fff" stroke-width="0.4" paint-order="fill stroke">Sep-</text><text transform="translate(58.56,0.00) scale(1.150,1)" font-size="20.64" fill="#595959" stroke="#fff" stroke-width="0.3" paint-order="fill stroke">2</text><text transform="translate(71.50,3.10) scale(0.930,1)" font-size="24.96" fill="#595959" stroke="#fff" stroke-width="0.3" paint-order="fill stroke">4</text></g>
<g transform="translate(1680.86,1206.80) rotate(-90) translate(-78.74,0)"><text transform="translate(0.00,0) scale(1.050,1)" font-size="25.92" fill="#595959" stroke="#fff" stroke-width="0.4" paint-order="fill stroke">Jan-</text><text transform="translate(52.65,0.00) scale(1.150,1)" font-size="20.64" fill="#595959" stroke="#fff" stroke-width="0.3" paint-order="fill stroke">2</text><text transform="translate(65.69,3.10) scale(0.930,1)" font-size="24.96" fill="#595959" stroke="#fff" stroke-width="0.3" paint-order="fill stroke">5</text></g>
<g transform="translate(1734.53,1206.80) rotate(-90) translate(-87.72,0)"><text transform="translate(0.00,0) scale(1.075,1)" font-size="25.92" fill="#595959" stroke="#fff" stroke-width="0.4" paint-order="fill stroke">May-</text><text transform="translate(61.62,0.00) scale(1.150,1)" font-size="20.64" fill="#595959" stroke="#fff" stroke-width="0.3" paint-order="fill stroke">2</text><text transform="translate(74.67,3.10) scale(0.930,1)" font-size="24.96" fill="#595959" stroke="#fff" stroke-width="0.3" paint-order="fill stroke">5</text></g>
<g transform="translate(1788.20,1206.80) rotate(-90) translate(-84.66,0)"><text transform="translate(0.00,0) scale(1.075,1)" font-size="25.92" fill="#595959" stroke="#fff" stroke-width="0.4" paint-order="fill stroke">Sep-</text><text transform="translate(58.56,0.00) scale(1.150,1)" font-size="20.64" fill="#595959" stroke="#fff" stroke-width="0.3" paint-order="fill stroke">2</text><text transform="translate(71.60,3.10) scale(0.930,1)" font-size="24.96" fill="#595959" stroke="#fff" stroke-width="0.3" paint-order="fill stroke">5</text></g>
<text x="1256.0" y="1368.6" font-size="28.20" fill="#595959" font-weight="normal" text-anchor="start" textLength="635.0" lengthAdjust="spacingAndGlyphs" stroke="#fff" stroke-width="0.4" paint-order="fill stroke">Learning and Work Institute analysis of ONS data</text>
<path d="M43.3 1344 H51.9 V1371.1 H70.1 V1378.7 H43.3 Z" fill="#EF7F3C"/>
<path d="M77.8 1344 H85.9 L91 1366.7 L96.2 1344 H105.1 L109.4 1361 L115.1 1344 H123.8 L113.2 1378.7 H104.6 L100.3 1360.5 L95.5 1378.7 H85.9 Z" fill="#EF7F3C"/>
<path d="M90.71 1377.77 C89.59 1376.73 86.39 1373.70 84.00 1371.54 C81.60 1369.38 78.49 1366.83 76.33 1364.83 C74.18 1362.84 72.66 1361.08 71.06 1359.56 C69.46 1358.04 67.87 1357.01 66.75 1355.73 C65.63 1354.45 64.83 1352.85 64.35 1351.90 C63.87 1350.94 63.65 1350.76 63.87 1349.98 C64.10 1349.20 64.42 1347.93 65.70 1347.20 C66.97 1346.47 69.59 1345.65 71.54 1345.57 C73.49 1345.49 75.97 1345.95 77.39 1346.72 C78.81 1347.50 79.85 1349.04 80.07 1350.22 C80.29 1351.40 79.67 1352.65 78.73 1353.81 C77.79 1354.97 75.69 1356.25 74.42 1357.17 C73.14 1358.08 72.34 1358.52 71.06 1359.32 C69.78 1360.12 68.11 1360.96 66.75 1361.96 C65.39 1362.96 63.81 1364.11 62.92 1365.31 C62.02 1366.51 61.50 1367.80 61.38 1369.15 C61.26 1370.49 61.46 1372.16 62.20 1373.36 C62.93 1374.56 64.23 1375.64 65.79 1376.33 C67.35 1377.03 69.54 1377.53 71.54 1377.53 C73.54 1377.53 75.93 1377.01 77.77 1376.33 C79.61 1375.65 81.28 1374.42 82.56 1373.46 C83.84 1372.50 84.72 1371.70 85.44 1370.58 C86.16 1369.46 86.47 1368.03 86.87 1366.75 C87.27 1365.47 87.67 1363.56 87.83 1362.92" fill="none" stroke="#4b4e51" stroke-width="2.3" stroke-linecap="round" stroke-linejoin="round"/>
<text x="132.0" y="1357.9" font-size="16.30" fill="#4f5052" font-weight="bold" text-anchor="start" textLength="99.9" lengthAdjust="spacingAndGlyphs">LEARNING</text>
<text x="238.9" y="1357.9" font-size="16.30" fill="#6b6c6f" font-weight="normal" text-anchor="start" textLength="40.8" lengthAdjust="spacingAndGlyphs">AND</text>
<text x="131.6" y="1377.8" font-size="16.30" fill="#4f5052" font-weight="bold" text-anchor="start" textLength="60.4" lengthAdjust="spacingAndGlyphs">WORK</text>
<text x="200.5" y="1377.8" font-size="16.30" fill="#6b6c6f" font-weight="normal" text-anchor="start" textLength="94.2" lengthAdjust="spacingAndGlyphs">INSTITUTE</text>
</svg>
</body>
</html>
